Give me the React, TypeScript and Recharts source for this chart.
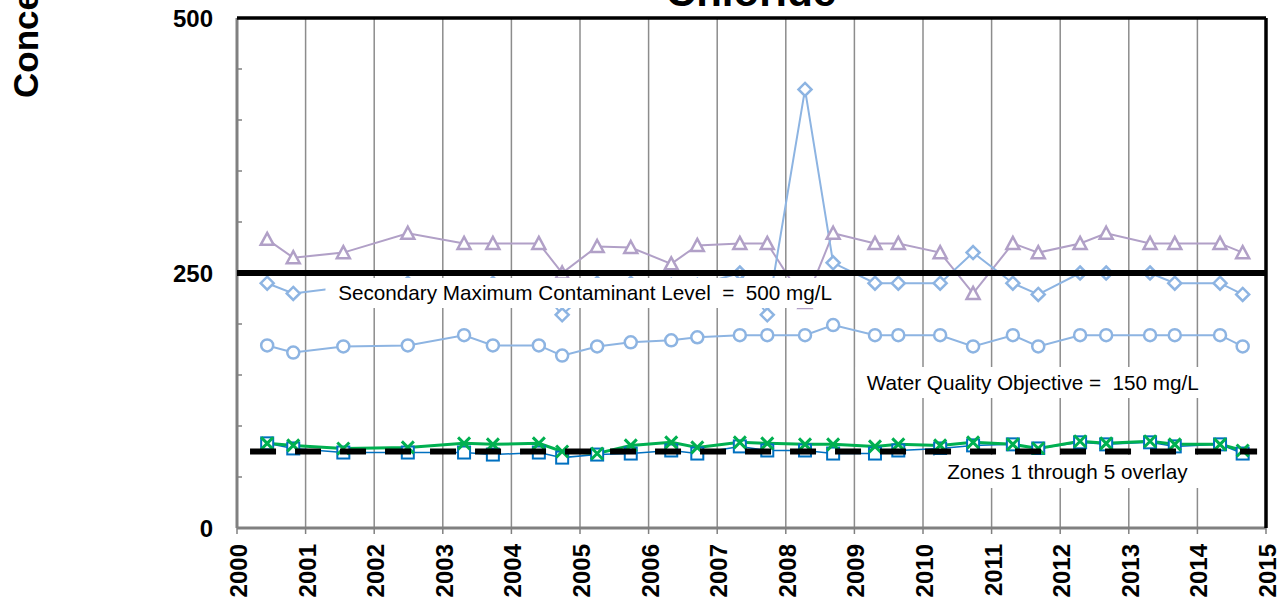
import React from 'react';
import {
  LineChart,
  Line,
  XAxis,
  YAxis,
  CartesianGrid,
  ReferenceLine,
  ReferenceArea,
  Customized,
} from 'recharts';

// ---- data ----
const sampleDates = [
  2000.44, 2000.82, 2001.55, 2002.49, 2003.31, 2003.73, 2004.4, 2004.74, 2005.25, 2005.74,
  2006.33, 2006.71, 2007.33, 2007.73, 2008.28, 2008.69, 2009.3, 2009.64, 2010.25, 2010.73,
  2011.31, 2011.68, 2012.29, 2012.67, 2013.31, 2013.67, 2014.33, 2014.66,
];
const triangleValues = [
  283, 265, 270, 289, 279, 279, 279, 250, 276, 275, 259, 277, 279, 279, 221, 289, 279, 279,
  270, 230, 279, 270, 279, 289, 279, 279, 279, 270,
];
const diamondValues = [
  240, 230, 236, 240, 236, 240, 236, 209, 240, 240, 238, 238, 250, 209, 430, 260, 240, 240,
  240, 270, 240, 229, 250, 250, 250, 240, 240, 229,
];
const circleValues = [
  179, 172, 178, 179, 189, 179, 179, 169, 178, 182, 184, 187, 189, 189, 189, 199, 189, 189,
  189, 178, 189, 178, 189, 189, 189, 189, 189, 178,
];
const squareValues = [
  83, 78, 74, 74, 74, 72, 74, 69, 72, 73, 76, 73, 80, 76, 76, 73, 73, 76, 78, 81, 82, 78, 84,
  82, 84, 80, 82, 73,
];
const crossValues = [
  83, 81, 78, 79, 83, 82, 83, 75, 73, 81, 84, 79, 84, 83, 82, 82, 80, 82, 81, 84, 82, 78, 85,
  83, 85, 82, 82, 76,
];
const overlayDates = [2000.19, 2014.87];
const overlayValue = 75;
const smclValue = 250;
const yearTicks = [
  2000, 2001, 2002, 2003, 2004, 2005, 2006, 2007, 2008, 2009, 2010, 2011, 2012, 2013, 2014, 2015,
];
const concTicks = [0, 50, 100, 150, 200, 250, 300, 350, 400, 450, 500];
const labeledConcTicks = [0, 250, 500];
const chartTitle = 'Chloride';
const yAxisTitle = 'Concentration (mg/L)';
const smclLabel = 'Secondary Maximum Contaminant Level \u00A0=\u00A0 500 mg/L';
const wqoLabel = 'Water Quality Objective =\u00A0 150 mg/L';
const overlayLabel = 'Zones 1 through 5 overlay';

const tableData = sampleDates.map((d, i) => ({
  year: d,
  tri: triangleValues[i],
  dia: diamondValues[i],
  cir: circleValues[i],
  sq: squareValues[i],
  cross: crossValues[i],
}));
const overlayData = overlayDates.map((d) => ({ year: d, overlay: overlayValue }));

const FONT = "'Liberation Sans', Arial, Helvetica, sans-serif";
const LAVENDER = '#B1A0C7';
const LIGHTBLUE = '#8DB4E2';
const BLUE = '#0070C0';
const GREEN = '#00B050';

const triangleDot = (p: any) => {
  const { cx, cy, index } = p;
  if (cx == null || cy == null) return <g key={`t${index}`} />;
  const s = 6.5;
  return (
    <path
      key={`t${index}`}
      d={`M${cx},${cy - s} L${cx + s},${cy + s * 0.85} L${cx - s},${cy + s * 0.85} Z`}
      fill="#fff"
      stroke={LAVENDER}
      strokeWidth={2.5}
    />
  );
};
const diamondDot = (p: any) => {
  const { cx, cy, index } = p;
  if (cx == null || cy == null) return <g key={`d${index}`} />;
  const s = 6.5;
  return (
    <path
      key={`d${index}`}
      d={`M${cx},${cy - s} L${cx + s},${cy} L${cx},${cy + s} L${cx - s},${cy} Z`}
      fill="#fff"
      stroke={LIGHTBLUE}
      strokeWidth={2.5}
    />
  );
};
const squareDot = (p: any) => {
  const { cx, cy, index } = p;
  if (cx == null || cy == null) return <g key={`s${index}`} />;
  const s = 6;
  return (
    <rect
      key={`s${index}`}
      x={cx - s}
      y={cy - s}
      width={2 * s}
      height={2 * s}
      fill="#fff"
      stroke={BLUE}
      strokeWidth={2}
    />
  );
};
const crossDot = (p: any) => {
  const { cx, cy, index } = p;
  if (cx == null || cy == null) return <g key={`x${index}`} />;
  const s = 6;
  return (
    <path
      key={`x${index}`}
      d={`M${cx - s},${cy - s} L${cx + s},${cy + s} M${cx - s},${cy + s} L${cx + s},${cy - s}`}
      stroke={GREEN}
      strokeWidth={3}
      fill="none"
    />
  );
};

const YearTick = (props: any) => {
  const { x, y, payload } = props;
  const tx = x + 1.5;
  return (
    <text
      x={tx}
      y={y}
      transform={`rotate(-90 ${tx} ${y})`}
      textAnchor="end"
      dominantBaseline="central"
      fontSize={24}
      fontWeight="bold"
      fill="#000"
      fontFamily={FONT}
    >
      {payload.value}
    </text>
  );
};

const Titles = () => (
  <g>
    <text
      x={751}
      y={6}
      textAnchor="middle"
      fontSize={42}
      fontWeight="bold"
      fill="#000"
      fontFamily={FONT}
    >
      {chartTitle}
    </text>
    <text
      x={38}
      y={98}
      transform="rotate(-90 38 98)"
      textAnchor="start"
      fontSize={35}
      fontWeight="bold"
      fill="#000"
      fontFamily={FONT}
    >
      {yAxisTitle}
    </text>
  </g>
);

const labelStyle = { fill: '#000', fontSize: 20.7, fontFamily: FONT };
const z = (n: number) => ({ zIndex: n } as any);

export default function App() {
  return (
    <div style={{ position: 'absolute', left: 0, top: 0, width: 1286, height: 608, background: '#fff' }}>
      <LineChart
        width={1286}
        height={608}
        data={tableData}
        margin={{ top: 18, right: 20, bottom: 20, left: 177 }}
        style={{ fontFamily: FONT }}
      >
        <CartesianGrid horizontal={false} stroke="#8C8C8C" strokeWidth={1.5} />
        <XAxis
          dataKey="year"
          type="number"
          domain={[2000, 2015]}
          ticks={yearTicks}
          interval={0}
          allowDataOverflow
          height={60}
          tickSize={6}
          tickMargin={10}
          axisLine={{ stroke: '#808080', strokeWidth: 3 }}
          tickLine={{ stroke: '#808080', strokeWidth: 1.5 }}
          tick={<YearTick />}
        />
        <YAxis
          type="number"
          domain={[0, 500]}
          ticks={concTicks}
          interval={0}
          allowDataOverflow
          width={60}
          tickSize={-5}
          tickMargin={29}
          axisLine={{ stroke: '#808080', strokeWidth: 3 }}
          tickLine={{ stroke: '#808080', strokeWidth: 1.5 }}
          tickFormatter={(v: number) => (labeledConcTicks.includes(v) ? String(v) : '')}
          tick={{ fill: '#000', fontSize: 24, fontWeight: 'bold', fontFamily: FONT }}
        />
        <Line
          dataKey="tri"
          type="linear"
          stroke={LAVENDER}
          strokeWidth={2}
          dot={triangleDot}
          activeDot={false}
          isAnimationActive={false}
        />
        <Line
          dataKey="dia"
          type="linear"
          stroke={LIGHTBLUE}
          strokeWidth={2}
          dot={diamondDot}
          activeDot={false}
          isAnimationActive={false}
        />
        <Line
          dataKey="cir"
          type="linear"
          stroke={LIGHTBLUE}
          strokeWidth={2}
          dot={{ r: 6, stroke: LIGHTBLUE, strokeWidth: 2.5, fill: '#fff' }}
          activeDot={false}
          isAnimationActive={false}
        />
        <Line
          dataKey="sq"
          type="linear"
          stroke={BLUE}
          strokeWidth={1.5}
          dot={squareDot}
          activeDot={false}
          isAnimationActive={false}
        />
        <Line
          dataKey="cross"
          type="linear"
          stroke={GREEN}
          strokeWidth={3}
          dot={crossDot}
          activeDot={false}
          isAnimationActive={false}
        />
        <Line
          data={overlayData}
          dataKey="overlay"
          type="linear"
          stroke="#000"
          strokeWidth={6}
          strokeDasharray="26 19"
          dot={false}
          activeDot={false}
          isAnimationActive={false}
          {...z(1300)}
        />
        <ReferenceLine y={smclValue} stroke="#000" strokeWidth={6} {...z(1400)} />
        <ReferenceArea
          x1={2001.29}
          x2={2008.86}
          y1={215.7}
          y2={245}
          fill="#fff"
          fillOpacity={1}
          stroke="none"
          label={{ value: smclLabel, position: 'center', ...labelStyle }}
          {...z(1500)}
        />
        <ReferenceArea
          x1={2009.02}
          x2={2014.18}
          y1={127.5}
          y2={157.8}
          fill="#fff"
          fillOpacity={1}
          stroke="none"
          label={{ value: wqoLabel, position: 'center', ...labelStyle }}
          {...z(1500)}
        />
        <ReferenceArea
          x1={2010.17}
          x2={2014.04}
          y1={39.2}
          y2={71.6}
          fill="#fff"
          fillOpacity={1}
          stroke="none"
          label={{ value: overlayLabel, position: 'center', ...labelStyle }}
          {...z(1500)}
        />
        <ReferenceLine y={500} stroke="#000" strokeWidth={3.5} {...z(1600)} />
        <ReferenceLine x={2015} stroke="#000" strokeWidth={3.5} {...z(1600)} />
        <Customized component={Titles} />
      </LineChart>
    </div>
  );
}
